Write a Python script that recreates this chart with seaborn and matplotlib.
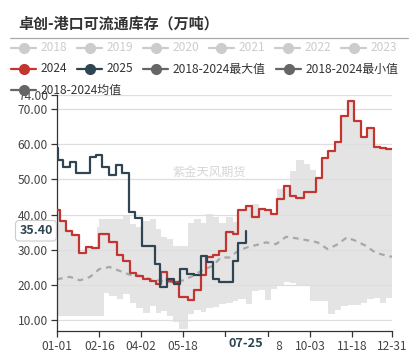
import matplotlib
matplotlib.use("Agg")
import matplotlib.pyplot as plt
import matplotlib.transforms as mtransforms
from matplotlib.lines import Line2D
from matplotlib.patches import Rectangle
import pandas as pd
import seaborn as sns

sns.set_theme(style="white")
plt.rcParams["font.family"] = ["Noto Sans CJK SC", "DejaVu Sans"]
plt.rcParams["axes.unicode_minus"] = False

title = "卓创-港口可流通库存（万吨）"
watermark = "紫金天风期货"

tick_days = [0, 46, 91, 137, 183, 229, 275, 321, 364]
tick_labels = ["01-01", "02-16", "04-02", "05-18", "07-03", "08-18", "10-03", "11-18", "12-31"]
y_ticks = [10, 20, 30, 40, 50, 60, 70, 74]

# 2024 weekly values (day of year)
days_2024 = [0, 3, 10, 16, 24, 31, 38, 43, 46, 51, 57, 65, 72, 79, 86, 93, 101, 108, 113, 119,
             126, 133, 142, 149, 157, 162, 170, 176, 184, 191, 197, 205, 212, 219, 226, 232,
             239, 247, 253, 260, 268, 275, 281, 288, 295, 302, 309, 316, 323, 330, 337, 344,
             351, 358, 364]
vals_2024 = [41.3, 38.3, 35.3, 34.1, 29.2, 30.7, 30.5, 30.5, 34.5, 34.5, 32.3, 28.6, 26.9, 23.5,
             22.4, 21.6, 21.1, 20.2, 23.8, 21.0, 20.7, 16.6, 15.6, 18.6, 22.7, 27.8, 28.6, 29.7,
             35.1, 34.4, 41.2, 42.3, 39.2, 41.6, 41.3, 40.1, 44.5, 48.0, 45.4, 44.6, 46.4, 46.4,
             50.3, 56.1, 58.0, 60.7, 68.0, 72.4, 66.7, 62.2, 64.6, 59.2, 58.8, 58.7, 58.6]

# 2018-2024 max / min on the same weekly days
band_max = [41.3, 38.3, 35.3, 34.1, 29.2, 30.7, 30.5, 36.4, 38.8, 38.8, 38.8, 38.8, 39.5, 37.3,
            36.4, 38.3, 38.8, 35.8, 33.5, 33.0, 31.0, 31.0, 37.5, 38.8, 37.5, 40.2, 39.2, 37.5,
            39.4, 37.8, 41.2, 42.3, 43.1, 41.6, 41.3, 40.2, 47.2, 48.0, 52.3, 55.6, 54.5, 52.6,
            50.3, 56.1, 58.0, 60.7, 68.0, 72.4, 66.7, 62.2, 64.6, 59.2, 58.8, 58.7, 58.6]
band_min = [11.1, 11.1, 11.1, 11.1, 11.1, 11.1, 11.1, 11.1, 11.1, 17.8, 16.8, 16.0, 17.3, 15.0,
            13.5, 12.1, 14.0, 12.1, 12.5, 11.1, 9.5, 7.6, 11.6, 13.0, 12.3, 13.5, 13.8, 14.5,
            15.0, 15.5, 15.9, 14.5, 18.3, 18.6, 15.8, 18.9, 20.0, 20.7, 20.5, 19.7, 19.7, 15.4,
            15.4, 15.4, 11.6, 13.0, 14.0, 14.2, 14.4, 15.0, 15.9, 16.4, 15.0, 16.4, 16.6]

# 2025 so far
days_2025 = [0, 1, 7, 14, 21, 28, 36, 42, 49, 56, 64, 71, 78, 85, 92, 99, 106, 112, 119, 127,
             134, 141, 149, 156, 163, 169, 176, 184, 191, 197, 205]
vals_2025 = [58.8, 55.5, 53.4, 55.0, 51.7, 51.7, 56.3, 56.8, 53.6, 51.2, 54.1, 51.8, 40.8, 39.0,
             31.1, 31.1, 25.9, 19.5, 21.6, 20.3, 24.4, 23.2, 22.7, 28.3, 26.4, 21.6, 20.7, 20.7,
             26.8, 31.9, 35.4]

# 2018-2024 mean
mean_days = [0, 14, 25, 36, 46, 57, 68, 79, 90, 101, 115, 126, 137, 148, 158, 169, 178, 187,
             198, 207, 216, 227, 238, 249, 259, 270, 283, 294, 304, 315, 324, 335, 346, 358, 364]
mean_vals = [21.6, 22.3, 21.3, 22.3, 24.5, 25.1, 24.0, 22.9, 22.6, 21.6, 21.1, 20.7, 21.3, 22.6,
             24.2, 25.4, 27.8, 27.8, 29.9, 30.7, 31.3, 32.1, 31.6, 33.7, 33.3, 32.8, 32.1, 30.2,
             31.4, 33.5, 32.6, 31.2, 29.2, 28.3, 28.0]

legend_row1 = ["2018", "2019", "2020", "2021", "2022", "2023"]
legend_row2 = ["2024", "2025", "2018-2024最大值", "2018-2024最小值"]
legend_row3 = ["2018-2024均值"]

RED = "#c23531"
NAVY = "#2f4554"
W, H = 418, 355

df24 = pd.DataFrame({"day": days_2024, "value": vals_2024})
df25 = pd.DataFrame({"day": days_2025, "value": vals_2025})
dfm = pd.DataFrame({"day": mean_days, "value": mean_vals})

fig = plt.figure(figsize=(W / 100, H / 100), dpi=100)
ax = fig.add_axes([57 / W, 1 - 331 / H, (392 - 57) / W, (331 - 95) / H])

ax.fill_between(days_2024, band_min, band_max, step="post", color="#e4e4e4", lw=0, zorder=0.4)
sns.lineplot(data=dfm, x="day", y="value", ax=ax, color="#a8a8a8", lw=1.6, zorder=2)
ax.lines[-1].set_dashes([2.6, 2.2])
sns.lineplot(data=df24, x="day", y="value", ax=ax, color=RED, lw=1.6,
             drawstyle="steps-post", zorder=3)
sns.lineplot(data=df25, x="day", y="value", ax=ax, color=NAVY, lw=1.6,
             drawstyle="steps-post", zorder=4)

ax.set_xlim(0, 364)
ax.set_ylim(6.9, 74)
ax.set_xlabel("")
ax.set_ylabel("")
ax.set_xticks(tick_days)
ax.set_xticklabels(tick_labels)
ax.set_yticks(y_ticks)
ax.set_yticklabels([f"{v:.2f}" for v in y_ticks])
ax.tick_params(axis="both", bottom=True, left=True, labelsize=8.6, labelcolor="#444444",
               color="#333333", length=4.5, width=0.9, pad=2)
# the 07-03 label sits under the axis pointer label
ax.get_xticklabels()[4].set_visible(False)
ax.yaxis.grid(True, color="#dedede", lw=0.9)
ax.xaxis.grid(False)
ax.set_axisbelow(True)
for s in ["top", "right"]:
    ax.spines[s].set_visible(False)
for s in ["left", "bottom"]:
    ax.spines[s].set_color("#333333")
    ax.spines[s].set_linewidth(0.9)

# axis pointer labels
ty = mtransforms.blended_transform_factory(ax.transAxes, ax.transData)
ax.text(-0.013, vals_2025[-1], f"{vals_2025[-1]:.2f}", transform=ty, ha="right", va="center",
        fontsize=9, fontweight="bold", color=NAVY, zorder=6, clip_on=False,
        bbox=dict(boxstyle="round,pad=0.3,rounding_size=0.3", fc="white", ec="#cccccc", lw=0.8))
tx = mtransforms.blended_transform_factory(ax.transData, ax.transAxes)
ax.add_patch(Rectangle((167, -0.12), 72, 0.093, transform=tx, fc="white", ec="none",
                       zorder=1.6, clip_on=False))
ax.text(days_2025[-1], -0.052, "07-25", transform=tx, ha="center", va="center", fontsize=9.2,
        fontweight="bold", color=NAVY, zorder=6, clip_on=False)

# title and separator
fig.text(18 / W, 1 - 23.5 / H, title, fontsize=10.8, fontweight="bold", color="#333333",
         va="center", ha="left")
fig.add_artist(Line2D([10 / W, 408 / W], [1 - 37.5 / H, 1 - 37.5 / H], transform=fig.transFigure,
                      color="#aaaaaa", lw=0.9))
fig.text(209 / W, 1 - 172.7 / H, watermark, fontsize=8.8, color="#d6d6d6", ha="center",
         va="center")


def legend_item(x0, y, label, color, text_color):
    yy = 1 - y / H
    fig.add_artist(Line2D([x0 / W, (x0 + 25) / W], [yy, yy], transform=fig.transFigure,
                          color=color, lw=1.6))
    fig.add_artist(Line2D([(x0 + 12.5) / W], [yy], transform=fig.transFigure, marker="o",
                          ms=7, color=color, mec=color))
    fig.text((x0 + 30) / W, yy, label, fontsize=8.6, color=text_color, va="center", ha="left")


for k, lab in enumerate(legend_row1):
    legend_item(11 + 66 * k, 47.7, lab, "#cccccc", "#cccccc")
for x0, lab, c in zip([11, 77, 143, 276], legend_row2, [RED, NAVY, "#666666", "#666666"]):
    legend_item(x0, 69, lab, c, "#333333")
legend_item(11, 90, legend_row3[0], "#666666", "#333333")

fig.savefig("out.png", dpi=100)
